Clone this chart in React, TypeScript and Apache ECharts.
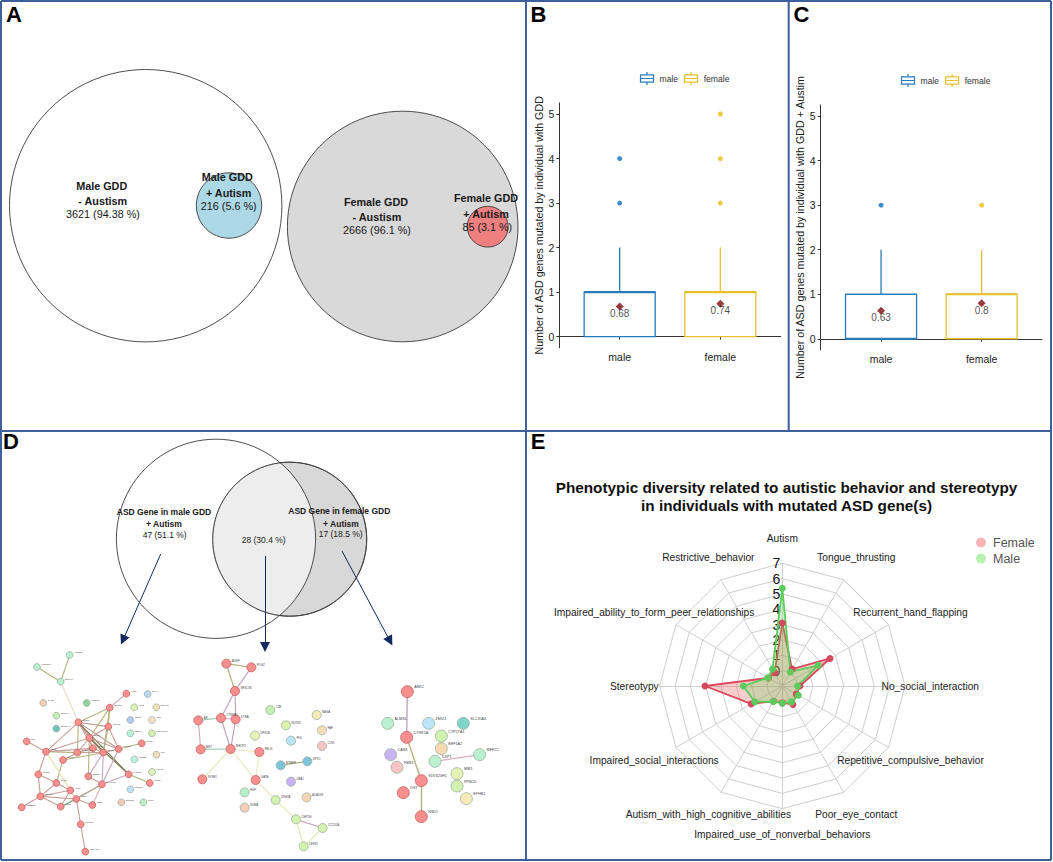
import React, { useEffect, useRef } from "react";
import * as echarts from "echarts";

const FONT = "Liberation Sans";
const BLUE = "#2a7cbc";
const YELLOW = "#e9c02a";

// Panels B, C
const boxCategories = ["male", "female"];
const boxTicks = [0, 1, 2, 3, 4, 5];
// [x, min, q1, median, q3, max]
const boxB_male = [[1, 0, 0, 1, 1, 2]];
const boxB_female = [[2, 0, 0, 1, 1, 2]];
const boxC_male = [[1, 0, 0, 0, 1, 2]];
const boxC_female = [[2, 0, 0, 1, 1, 2]];
const outB_male = [[1, 3], [1, 4]];
const outB_female = [[2, 3], [2, 4], [2, 5]];
const outC_male = [[1, 3]];
const outC_female = [[2, 3]];
const meansB = [[1, 0.68], [2, 0.74]];
const meansC = [[1, 0.63], [2, 0.8]];

// Panel E
const radarNames = [
  "Autism",
  "Restrictive_behavior",
  "Impaired_ability_to_form_peer_relationships",
  "Stereotypy",
  "Impaired_social_interactions",
  "Autism_with_high_cognitive_abilities",
  "Impaired_use_of_nonverbal_behaviors",
  "Poor_eye_contact",
  "Repetitive_compulsive_behavior",
  "No_social_interaction",
  "Recurrent_hand_flapping",
  "Tongue_thrusting",
];
const femaleValues = [3.11, 0, 0.05, 4.04, 1.34, 0.15, 0.1, 0.39, 0.05, 0.15, 2.59, 0.27];
const maleValues = [5.37, 0.27, 0.08, 1.54, 1.07, 0.17, 0.13, 0.2, 0.2, 0, 1.7, 0.06];

// Panels A, D: circles as [cx, cy, r] on the page grid
const vennCircles = [
  { v: [145.7, 205.7, 136.2], fill: "#ffffff" },
  { v: [229, 205.5, 32.7], fill: "#add8e6" },
  { v: [402.7, 226.5, 115.3], fill: "#d9d9d9" },
  { v: [487.7, 226.7, 20.4], fill: "#f08080" },
  { v: [289.7, 539.2, 77], fill: "#d8d8d8" },
  { v: [216, 538.8, 99.6], fill: "rgba(255,255,255,0.55)" },
  { v: [289.7, 539.2, 77], fill: "rgba(0,0,0,0)" },
];
const arrowSegments = [
  [[160.7, 554], [123, 640]],
  [[265, 556], [265, 647]],
  [[342, 551], [390, 641]],
];
// [text, x, y, bold, size]
const vennTexts: [string, number, number, boolean, number][] = [
  ["Male GDD", 101.7, 185.7, true, 10.8],
  ["- Austism", 102.7, 201.3, true, 10.8],
  ["3621 (94.38 %)", 103, 214.3, false, 10.8],
  ["Male GDD", 227.3, 177, true, 10.8],
  ["+ Autism", 228.7, 192.7, true, 10.8],
  ["216 (5.6 %)", 228.7, 206, false, 10.8],
  ["Female GDD", 376, 201.7, true, 10.8],
  ["- Austism", 377, 217.3, true, 10.8],
  ["2666 (96.1 %)", 377, 230.3, false, 10.8],
  ["Female GDD", 486, 198, true, 10.8],
  ["+ Autism", 486, 213.7, true, 10.8],
  ["85 (3.1 %)", 487.3, 226.7, false, 10.8],
  ["ASD Gene in male GDD", 164, 512, true, 8.5],
  ["+ Autism", 164, 524.3, true, 8.5],
  ["47 (51.1 %)", 164.7, 534.7, false, 8.5],
  ["28 (30.4 %)", 263.7, 539.7, false, 8.5],
  ["ASD Gene in female GDD", 339.3, 511.3, true, 8.5],
  ["+ Autism", 341, 523.7, true, 8.5],
  ["17 (18.5 %)", 340.7, 534, false, 8.5],
];
const panelLetters: [string, number, number][] = [
  ["A", 14, 14.5], ["B", 538.5, 14], ["C", 801.5, 14], ["D", 11, 441.5], ["E", 538, 441.5],
];

// Network colours
const R = "#f78f8f";
// [label, x, y, fill] on a 3x crop scale
const net1Nodes: [string, number, number, string][] = [
  ["ARID1B", 209, 45, "#b8f0d0"], ["HNRNPU", 111, 81, "#b8f0d0"], ["SRCAP", 182, 125, "#b8f0d0"],
  ["SCN2A", 235, 247, R], ["GRIN2A", 329, 203, R], ["KAT5", 379, 161, R], ["CNTN2", 325, 260, R],
  ["CHD8", 268, 294, R], ["KCNQ2", 356, 327, R], ["KMT2A", 425, 310, R], ["NF1", 80, 304, R],
  ["TSC2", 138, 335, R], ["SYNGAP1", 232, 338, R], ["DLG4", 279, 325, R], ["CDH8", 310, 338, R],
  ["SMC1A", 189, 360, R], ["TCF20", 115, 403, R], ["GAD1", 169, 429, R], ["SETD5", 265, 409, R],
  ["SHANK3", 306, 433, R], ["KANSL1", 386, 403, R], ["SCN1A", 449, 429, R], ["ATRX", 211, 451, R],
  ["NRXN1", 121, 469, R], ["CREBBP", 65, 502, R], ["SIN3A", 182, 500, R], ["PTEN", 229, 477, R],
  ["TBR1", 277, 495, R], ["PTPN11", 242, 553, R], ["PRKAR1A", 256, 635, R],
  ["SACS", 130, 189, "#f6cfb8"], ["CNOT3", 260, 189, "#8fd49a"], ["SLC6A1", 169, 227, "#c6f0b4"],
  ["SLC39A1", 169, 266, "#6cc6bd"], ["SNAP", 443, 162, "#bcd4f5"], ["TLK2", 403, 202, "#ddf5b2"],
  ["DNMT3", 469, 202, "#f5dfb8"], ["NRP2", 391, 240, "#b8c8f5"], ["IRF6", 456, 240, "#f5e5c2"],
  ["NECK1", 391, 280, "#b8f0d8"], ["POMGNT1", 456, 280, "#d6f0b2"], ["MEIS2", 403, 358, "#bcf2e0"],
  ["CIC", 469, 344, "#f5dcb8"], ["TCF12", 456, 396, "#def5b8"], ["KDM5C", 391, 448, "#bde0f5"],
  ["RCOR3", 364, 487, "#f5c9b8"], ["UPF3", 430, 487, "#bdf0c9"],
];
// [source, target, colour]
const OL = "#b3b37e", BR = "#c79d97", PU = "#bfa6bd", PA = "#e7eabc", DK = "#75754a", GN = "#9accae", PK = "#dcaebc";
const net1Links: [string, string, string][] = [
  ["SRCAP", "HNRNPU", OL], ["SRCAP", "ARID1B", OL], ["SRCAP", "SCN2A", "#e8dcc4"], ["SCN2A", "GRIN2A", OL],
  ["GRIN2A", "KAT5", PU], ["SCN2A", "CHD8", BR], ["SCN2A", "CNTN2", BR], ["SCN2A", "KCNQ2", BR],
  ["SCN2A", "CDH8", BR], ["SCN2A", "DLG4", BR], ["SCN2A", "SYNGAP1", OL], ["SCN2A", "TSC2", BR],
  ["SCN2A", "KANSL1", DK], ["GRIN2A", "CNTN2", OL], ["GRIN2A", "CDH8", OL], ["GRIN2A", "CHD8", OL],
  ["CNTN2", "CHD8", BR], ["CNTN2", "KCNQ2", BR], ["CNTN2", "CDH8", OL], ["CHD8", "KCNQ2", BR],
  ["CHD8", "TSC2", BR], ["CHD8", "SYNGAP1", BR], ["CHD8", "DLG4", BR], ["CHD8", "CDH8", BR],
  ["CHD8", "KANSL1", DK], ["CHD8", "SETD5", OL], ["TSC2", "SYNGAP1", OL], ["TSC2", "NF1", BR],
  ["TSC2", "DLG4", BR], ["TSC2", "TCF20", BR], ["TSC2", "ATRX", PA], ["SYNGAP1", "SMC1A", BR],
  ["SYNGAP1", "CDH8", BR], ["SYNGAP1", "DLG4", BR], ["DLG4", "CDH8", BR], ["SMC1A", "GAD1", OL],
  ["SMC1A", "CDH8", OL], ["TCF20", "GAD1", BR], ["TCF20", "NRXN1", BR], ["GAD1", "ATRX", BR],
  ["GAD1", "NRXN1", BR], ["ATRX", "PTEN", BR], ["ATRX", "SIN3A", BR], ["ATRX", "NRXN1", BR],
  ["NRXN1", "SIN3A", BR], ["NRXN1", "CREBBP", BR], ["SIN3A", "PTEN", DK], ["SIN3A", "SHANK3", GN],
  ["PTEN", "SHANK3", BR], ["PTEN", "TBR1", BR], ["PTEN", "PTPN11", BR], ["PTPN11", "PRKAR1A", BR],
  ["CDH8", "SETD5", PU], ["CDH8", "SHANK3", PU], ["SETD5", "SHANK3", BR], ["SHANK3", "KANSL1", PU],
  ["SHANK3", "TBR1", PK], ["KANSL1", "SCN1A", OL], ["KCNQ2", "SHANK3", PU], ["KCNQ2", "KMT2A", OL],
  ["CDH8", "KCNQ2", BR], ["TSC2", "PTEN", PA], ["NRXN1", "PTEN", BR],
];
const net2Nodes: [string, number, number, string][] = [
  ["ADNP", 109, 71, R], ["POGZ", 184, 82, R], ["SRSCS8", 135, 153, R], ["CTNNB1", 93, 234, R],
  ["KTRA", 137, 238, R], ["AR", 25, 241, R], ["MET", 32, 328, R], ["MECP2", 122, 327, R],
  ["RELN", 208, 336, R], ["SYNE1", 37, 418, R], ["GATA", 197, 420, R],
  ["C3B", 241, 210, "#c6f0b4"], ["NOTN2", 288, 256, "#dcf2ae"], ["NAGA", 380, 225, "#f5eab8"],
  ["FAH", 396, 271, "#f5dfb8"], ["PKIL", 303, 302, "#bce4f8"], ["CLN5", 396, 318, "#f8c4c4"],
  ["UPG2B", 195, 287, "#e8f2b4"], ["MTHFR", 272, 376, "#7cc4dc"], ["DPYD", 352, 364, "#7cc4dc"],
  ["UBA1", 303, 425, "#c8b4f2"], ["ACADS8", 350, 472, "#f5d4b4"], ["HGF", 164, 457, "#b8f0c8"],
  ["SDMA", 164, 503, "#f5ccb8"], ["USH2A", 257, 480, "#d2f2b0"], ["CEP290", 318, 538, "#d2f2b0"],
  ["CC2D2A", 398, 564, "#d2f2b0"], ["CEP41", 341, 619, "#d2f2b0"],
];
const net2Links: [string, string, string][] = [
  ["ADNP", "POGZ", OL], ["ADNP", "SRSCS8", OL], ["POGZ", "SRSCS8", PU], ["SRSCS8", "CTNNB1", PU],
  ["SRSCS8", "KTRA", PU], ["CTNNB1", "KTRA", PK], ["AR", "CTNNB1", GN], ["CTNNB1", "MECP2", PU],
  ["KTRA", "MECP2", PU], ["AR", "MET", PK], ["MET", "MECP2", GN], ["MECP2", "SYNE1", PA],
  ["MECP2", "RELN", PA], ["MECP2", "GATA", PA], ["RELN", "GATA", PA], ["GATA", "USH2A", PA],
  ["USH2A", "CEP290", PA], ["CEP290", "CC2D2A", PU], ["CEP290", "CEP41", PA], ["CC2D2A", "CEP41", PA],
  ["MTHFR", "DPYD", OL],
];
const net3Nodes: [string, number, number, string][] = [
  ["ANK2", 652, 155, R], ["DYRK1A", 650, 292, R], ["SUV420H1", 694, 422, R], ["DST", 640, 458, R],
  ["NSD1", 694, 530, R], ["ALMS1", 593, 250, "#b8f0d0"], ["ZMIZ1", 716, 250, "#bce4f8"],
  ["SLC35A3", 820, 250, "#7fd4c9"], ["CYP27A1", 754, 288, "#d2f2b0"], ["EEF1A2", 754, 326, "#f5d8b4"],
  ["CASK", 602, 344, "#c8b4f2"], ["FBN3", 621, 382, "#f8c4c4"], ["DXP1", 735, 364, "#b8f0d0"],
  ["MEF2C", 869, 344, "#b8f0d0"], ["MIB1", 801, 401, "#e8f2b4"], ["PPM1D", 801, 438, "#d2f2b0"],
  ["EPHB2", 829, 476, "#f5eab8"],
];
const net3Links: [string, string, string][] = [
  ["ANK2", "DYRK1A", PU], ["DYRK1A", "SUV420H1", OL], ["SUV420H1", "NSD1", OL], ["DXP1", "MEF2C", PK],
];

const BOX_ICON = "path://M1,4H15V12H1Z M1,8H15 M8,1V4 M8,12V15";

function boxSeries(name: string, data: number[][], color: string, xAxisIndex: number, yAxisIndex: number) {
  return {
    type: "custom",
    name,
    xAxisIndex,
    yAxisIndex,
    silent: true,
    itemStyle: { color },
    data,
    encode: { x: 0, y: [1, 2, 3, 4, 5] },
    clip: false,
    renderItem: (_: any, api: any) => {
      const x = api.value(0);
      const half = 0.353;
      const lo = api.coord([x, api.value(1)]);
      const hi = api.coord([x, api.value(5)]);
      const a = api.coord([x - half, api.value(4)]);
      const b = api.coord([x + half, api.value(2)]);
      const m = api.coord([x, api.value(3)]);
      const q3 = api.coord([x, api.value(4)]);
      const q1 = api.coord([x, api.value(2)]);
      const stroke = { stroke: color, lineWidth: 1.3, fill: "none" };
      return {
        type: "group",
        children: [
          { type: "line", shape: { x1: hi[0], y1: hi[1], x2: q3[0], y2: q3[1] }, style: stroke },
          { type: "line", shape: { x1: lo[0], y1: lo[1], x2: q1[0], y2: q1[1] }, style: stroke },
          { type: "rect", shape: { x: a[0], y: a[1], width: b[0] - a[0], height: b[1] - a[1] }, style: stroke },
          { type: "line", shape: { x1: a[0], y1: m[1], x2: b[0], y2: m[1] }, style: { stroke: color, lineWidth: 2.2 } },
        ],
      };
    },
  };
}

function pointSeries(data: number[][], color: string, xAxisIndex: number, yAxisIndex: number) {
  return {
    type: "scatter",
    xAxisIndex,
    yAxisIndex,
    silent: true,
    symbolSize: 5,
    itemStyle: { color },
    data,
  };
}

function meanSeries(data: number[][], xAxisIndex: number, yAxisIndex: number) {
  return {
    type: "scatter",
    xAxisIndex,
    yAxisIndex,
    silent: true,
    symbol: "diamond",
    symbolSize: 8,
    z: 5,
    itemStyle: { color: "#7d0a12" },
    label: {
      show: true,
      position: "bottom",
      distance: 0,
      offset: [0, -2],
      color: "#1c1c1c",
      fontFamily: FONT,
      fontSize: 10,
      formatter: (p: any) => String(p.value[1]),
    },
    data,
  };
}

function netSeries(
  nodes: [string, number, number, string][],
  links: [string, string, string][],
  size: number,
  font: number,
  gridIndex: number,
  linkWidth: number
) {
  return {
    type: "graph",
    coordinateSystem: "cartesian2d",
    xAxisIndex: gridIndex,
    yAxisIndex: gridIndex,
    silent: true,
    roam: false,
    z: 3,
    data: nodes.map(([name, x, y, fill]) => ({
      name,
      value: [x, y],
      symbolSize: size,
      itemStyle: { color: fill, borderColor: fill === R ? "#c85f5f" : "#9db0a0", borderWidth: 0.8 },
      label: {
        show: true,
        position: "right",
        distance: 0.5,
        offset: [0, -size * 0.35],
        fontSize: font,
        fontFamily: FONT,
        color: "#444",
        formatter: name,
      },
    })),
    links: links.map(([source, target, color]) => ({
      source,
      target,
      lineStyle: { color, width: linkWidth, opacity: 1, curveness: 0 },
    })),
  };
}

const axisCommon = {
  axisLine: { lineStyle: { color: "#333", width: 1 } },
  axisTick: { length: 3, lineStyle: { color: "#333", width: 1 } },
  splitLine: { show: false },
};

function xAxisFor(gridIndex: number) {
  return {
    ...axisCommon,
    type: "value",
    gridIndex,
    min: 0.4,
    max: 2.6,
    axisTick: { ...axisCommon.axisTick, show: true, customValues: [1, 2] },
    axisLabel: {
      customValues: [1, 2],
      formatter: (v: number) => boxCategories[v - 1],
      color: "#222",
      fontFamily: FONT,
      fontSize: 10.5,
      margin: 4,
    },
  };
}
function yAxisFor(gridIndex: number, name: string, gap: number) {
  return {
    ...axisCommon,
    type: "value",
    gridIndex,
    min: -0.25,
    max: 5.25,
    name,
    nameLocation: "middle",
    nameGap: gap,
    nameTextStyle: { fontFamily: FONT, fontSize: 10.7, color: "#222" },
    axisTick: { ...axisCommon.axisTick, show: true, customValues: boxTicks },
    axisLabel: {
      customValues: boxTicks,
      color: "#222",
      fontFamily: FONT,
      fontSize: 10.5,
      margin: 5,
    },
  };
}

function boxLegend(left: number, top: number) {
  return {
    left,
    top,
    padding: 0,
    orient: "horizontal",
    itemWidth: 13,
    itemHeight: 13,
    itemGap: 4,
    selectedMode: false,
    textStyle: { fontFamily: FONT, fontSize: 8.6, color: "#333", padding: [0, 0, 0, 1] },
    data: [
      { name: "male", icon: BOX_ICON, itemStyle: { color: "none", borderColor: BLUE, borderWidth: 1.2 } },
      { name: "female", icon: BOX_ICON, itemStyle: { color: "none", borderColor: YELLOW, borderWidth: 1.2 } },
    ],
  };
}

const hiddenAxis = (gridIndex: number, min: number, max: number, inverse: boolean) => ({
  type: "value",
  gridIndex,
  min,
  max,
  inverse,
  show: false,
  splitLine: { show: false },
});

const frameLines = [
  [1, 1, 1051, 1], [1, 1, 1, 860], [1, 860, 1051, 860], [1051, 1, 1051, 860],
  [1, 431, 1051, 431], [526, 1, 526, 860], [788.7, 1, 788.7, 431],
];

export default function App() {
  const ref = useRef<HTMLDivElement>(null);
  useEffect(() => {
    const chart = echarts.init(ref.current!, undefined, { renderer: "svg" });
    const option: any = {
      animation: false,
      backgroundColor: "#fff",
      textStyle: { fontFamily: FONT },
      title: {
        text: "Phenotypic diversity related to autistic behavior and stereotypy\nin individuals with mutated ASD gene(s)",
        left: 781.5,
        top: 473,
        textAlign: "center",
        textStyle: { fontFamily: FONT, fontSize: 15.3, fontWeight: "bold", color: "#111", lineHeight: 18.3 },
      },
      grid: [
        { left: 0, top: 0, width: 1053, height: 862 },
        { left: 559.3, top: 102.9, width: 221.4, height: 244.9 },
        { left: 820.7, top: 105, width: 221.3, height: 244.9 },
        { left: 0, top: 640, width: 270, height: 222 },
        { left: 190, top: 640, width: 330, height: 222 },
      ],
      xAxis: [
        hiddenAxis(0, 0, 1053, false),
        xAxisFor(1),
        xAxisFor(2),
        hiddenAxis(3, 0, 810, false),
        hiddenAxis(4, 0, 990, false),
      ],
      yAxis: [
        hiddenAxis(0, 0, 862, true),
        yAxisFor(1, "Number of ASD genes mutated by individual with GDD", 14),
        yAxisFor(2, "Number of ASD genes mutated by individual with GDD + Austim", 13),
        hiddenAxis(3, 0, 666, true),
        hiddenAxis(4, 0, 666, true),
      ],
      legend: [
        boxLegend(638, 69.5),
        boxLegend(899, 71.5),
        {
          left: 976,
          top: 536,
          padding: 0,
          orient: "vertical",
          icon: "circle",
          itemWidth: 10,
          itemHeight: 10,
          itemGap: 3,
          selectedMode: false,
          textStyle: { fontFamily: FONT, fontSize: 12.5, color: "#555", padding: [0, 0, 0, 2] },
          data: [
            { name: "Female", itemStyle: { color: "#f8b6b6", borderWidth: 0 } },
            { name: "Male", itemStyle: { color: "#b8f2b0", borderWidth: 0 } },
          ],
        },
      ],
      radar: {
        center: [782.3, 686],
        radius: 122.7,
        startAngle: 90,
        splitNumber: 8,
        shape: "polygon",
        nameGap: 25.3,
        axisName: {
          color: "#222",
          fontFamily: FONT,
          fontSize: 10.2,
          align: "center",
          verticalAlign: "middle",
        },
        axisLine: { lineStyle: { color: "#cfcfcf", width: 1 } },
        splitLine: { lineStyle: { color: "#cfcfcf", width: 1 } },
        splitArea: { show: false },
        axisTick: { show: false },
        axisLabel: { show: false },
        indicator: radarNames.map((name, i) => ({
          name,
          min: -1,
          max: 7,
          ...(i === 0
            ? {
                axisLabel: {
                  show: true,
                  color: "#111",
                  fontFamily: FONT,
                  fontSize: 14,
                  margin: 2,
                  showMinLabel: false,
                  formatter: (v: number) => (v < 0 ? "" : String(v)),
                },
              }
            : {}),
        })),
      },
      graphic: {
        elements: [
          ...frameLines.map(([x1, y1, x2, y2]) => ({
            type: "line",
            silent: true,
            z: 20,
            shape: { x1, y1, x2, y2 },
            style: { stroke: "#3e5f9e", lineWidth: 2 },
          })),
          ...vennTexts.map(([text, x, y, bold, size]) => ({
            type: "text",
            silent: true,
            z: 30,
            style: {
              text,
              x,
              y,
              fill: "#1a1a1a",
              font: `${bold ? "bold " : ""}${size}px "${FONT}"`,
              textAlign: "center",
              textVerticalAlign: "middle",
            },
          })),
          ...panelLetters.map(([text, x, y]) => ({
            type: "text",
            silent: true,
            z: 30,
            style: {
              text,
              x,
              y,
              fill: "#000",
              font: `bold 22px "${FONT}"`,
              textAlign: "center",
              textVerticalAlign: "middle",
            },
          })),
        ],
      },
      series: [
        {
          type: "scatter",
          xAxisIndex: 0,
          yAxisIndex: 0,
          silent: true,
          z: 1,
          symbolSize: (v: number[]) => v[2] * 2,
          data: vennCircles.map((c) => ({
            value: c.v,
            itemStyle: { color: c.fill, borderColor: "#3a3a3a", borderWidth: 0.9, opacity: 1 },
          })),
        },
        {
          type: "lines",
          coordinateSystem: "cartesian2d",
          xAxisIndex: 0,
          yAxisIndex: 0,
          silent: true,
          z: 4,
          symbol: ["none", "triangle"],
          symbolSize: 10,
          lineStyle: { color: "#14295f", width: 1, opacity: 1 },
          data: arrowSegments.map((coords) => ({ coords })),
        },
        netSeries(net1Nodes, net1Links, 6.8, 2.3, 3, 1.1),
        netSeries(net2Nodes, net2Links, 9, 2.8, 4, 1.2),
        netSeries(net3Nodes, net3Links, 12, 3.7, 4, 1.4),
        boxSeries("male", boxB_male, BLUE, 1, 1),
        boxSeries("female", boxB_female, YELLOW, 1, 1),
        pointSeries(outB_male, "#0f6fbe", 1, 1),
        pointSeries(outB_female, "#e9bd10", 1, 1),
        meanSeries(meansB, 1, 1),
        boxSeries("male", boxC_male, BLUE, 2, 2),
        boxSeries("female", boxC_female, YELLOW, 2, 2),
        pointSeries(outC_male, "#0f6fbe", 2, 2),
        pointSeries(outC_female, "#e9bd10", 2, 2),
        meanSeries(meansC, 2, 2),
        {
          type: "radar",
          silent: true,
          symbol: "circle",
          symbolSize: 7,
          itemStyle: { color: "#d5495f" },
          lineStyle: { color: "#d5495f", width: 1.8 },
          areaStyle: { color: "rgba(245,77,77,0.4)" },
          data: [{ name: "Female", value: femaleValues }],
        },
        {
          type: "radar",
          silent: true,
          symbol: "circle",
          symbolSize: 7,
          itemStyle: { color: "#5ccb5c" },
          lineStyle: { color: "#5ccb5c", width: 1.8 },
          areaStyle: { color: "rgba(90,220,90,0.4)" },
          data: [{ name: "Male", value: maleValues }],
        },
      ],
    };
    chart.setOption(option);
    return () => chart.dispose();
  }, []);
  return (
    <div
      ref={ref}
      style={{ position: "fixed", left: 0, top: 0, width: 1053, height: 862, background: "#fff" }}
    />
  );
}
